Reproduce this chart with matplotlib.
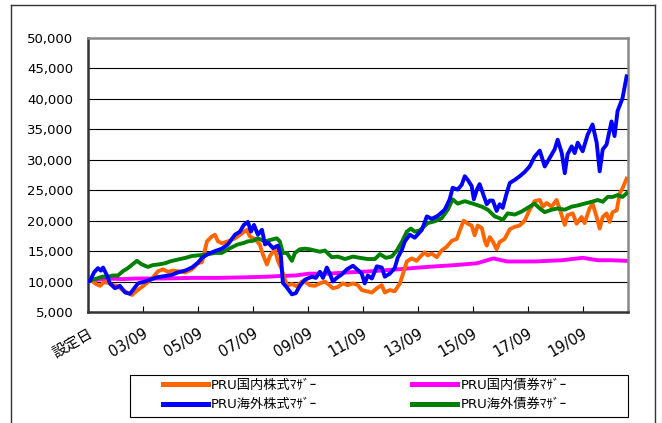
import matplotlib
matplotlib.use("Agg")
import matplotlib.pyplot as plt
from matplotlib.lines import Line2D
from matplotlib.patches import Rectangle
from matplotlib.ticker import FuncFormatter
import numpy as np

plt.rcParams['font.family'] = ['DejaVu Sans', 'Noto Sans CJK JP']

# data (decimal year, index value)
kokunai_kabu_t = [2001.75, 2001.90, 2002.04, 2002.19, 2002.33, 2002.48, 2002.62, 2002.80, 2002.99, 2003.17,
                  2003.35, 2003.53, 2003.71, 2003.90, 2004.08, 2004.30, 2004.48, 2004.66, 2004.84, 2005.02,
                  2005.28, 2005.53, 2005.75, 2005.90, 2006.08, 2006.26, 2006.37, 2006.48, 2006.62, 2006.84,
                  2007.10, 2007.35, 2007.53, 2007.64, 2007.82, 2008.00, 2008.11, 2008.26, 2008.37, 2008.55,
                  2008.66, 2008.80, 2008.99, 2009.17, 2009.35, 2009.53, 2009.64, 2009.82, 2010.00, 2010.19,
                  2010.37, 2010.51, 2010.66, 2010.84, 2011.02, 2011.20, 2011.39, 2011.57, 2011.71, 2011.90,
                  2012.08, 2012.26, 2012.44, 2012.55, 2012.73, 2012.91, 2013.10, 2013.20, 2013.35, 2013.53,
                  2013.71, 2013.82, 2014.00, 2014.11, 2014.26, 2014.44, 2014.62, 2014.80, 2014.99, 2015.17,
                  2015.28, 2015.42, 2015.57, 2015.71, 2015.82, 2015.93, 2016.08, 2016.19, 2016.26, 2016.37,
                  2016.48, 2016.62, 2016.73, 2016.91, 2017.10, 2017.28, 2017.46, 2017.64, 2017.82, 2018.00,
                  2018.19, 2018.30, 2018.44, 2018.62, 2018.80, 2018.91, 2019.10, 2019.20, 2019.39, 2019.53,
                  2019.71, 2019.82, 2020.00, 2020.11, 2020.26, 2020.37, 2020.48, 2020.62, 2020.73, 2020.84,
                  2020.99, 2021.10, 2021.20, 2021.35]
kokunai_kabu = [10000, 10100, 9600, 9300, 9900, 9800, 9500, 9300, 8700, 8200,
                7800, 8500, 9100, 9800, 10500, 11700, 12000, 11600, 11800, 11700,
                11500, 12000, 13000, 13200, 16600, 17400, 17700, 16600, 16300, 16600,
                17100, 17900, 18500, 17400, 17000, 16100, 14500, 12800, 14200, 15300,
                13400, 12000, 9300, 9600, 9200, 10000, 10000, 9400, 9300, 9700,
                10000, 9500, 8900, 9100, 9700, 9400, 9700, 9400, 8600, 8400,
                8200, 8900, 9400, 8200, 8600, 8400, 9700, 11100, 13300, 13800,
                13400, 14000, 14800, 14300, 14600, 14000, 15100, 15700, 16700, 17000,
                18400, 20000, 19500, 19200, 17600, 19200, 18800, 16700, 15900, 17300,
                16600, 15300, 16500, 17000, 18600, 19000, 19200, 20000, 21800, 23200,
                23400, 22300, 22900, 22300, 23400, 22000, 19300, 20900, 21200, 19500,
                20600, 19600, 22000, 22800, 20600, 18700, 20600, 21200, 19800, 21400,
                21700, 24500, 25300, 26900]

kokunai_sai_t = [2001.75, 2002.10, 2002.50, 2003.00, 2003.50, 2004.50, 2005.50, 2006.50, 2007.50, 2008.30,
                 2008.70, 2009.30, 2009.80, 2010.50, 2011.20, 2012.10, 2013.00, 2013.80, 2014.40, 2015.10,
                 2015.90, 2016.20, 2016.50, 2017.00, 2018.00, 2019.00, 2019.75, 2020.30, 2020.80, 2021.35]
kokunai_sai = [10000, 10300, 10500, 10400, 10500, 10500, 10600, 10600, 10700, 10800,
               10900, 11000, 11300, 11300, 11500, 11700, 12000, 12300, 12500, 12700,
               13000, 13400, 13800, 13300, 13300, 13500, 13900, 13500, 13500, 13400]

kaigai_kabu_t = [2001.75, 2001.82, 2001.97, 2002.11, 2002.22, 2002.30, 2002.44, 2002.55, 2002.73, 2002.91,
                 2003.10, 2003.28, 2003.57, 2003.82, 2004.00, 2004.26, 2004.55, 2004.80, 2005.02, 2005.28,
                 2005.53, 2005.75, 2005.90, 2006.11, 2006.37, 2006.62, 2006.84, 2007.10, 2007.28, 2007.42,
                 2007.57, 2007.68, 2007.79, 2007.93, 2008.08, 2008.19, 2008.30, 2008.48, 2008.66, 2008.77,
                 2008.84, 2008.99, 2009.17, 2009.31, 2009.46, 2009.64, 2009.90, 2010.04, 2010.19, 2010.30,
                 2010.44, 2010.55, 2010.66, 2010.80, 2010.99, 2011.17, 2011.39, 2011.57, 2011.71, 2011.82,
                 2011.93, 2012.08, 2012.26, 2012.44, 2012.55, 2012.73, 2012.91, 2013.02, 2013.17, 2013.28,
                 2013.46, 2013.64, 2013.90, 2014.08, 2014.26, 2014.48, 2014.73, 2014.91, 2015.02, 2015.20,
                 2015.35, 2015.46, 2015.57, 2015.71, 2015.79, 2015.90, 2016.00, 2016.11, 2016.26, 2016.37,
                 2016.48, 2016.62, 2016.73, 2016.84, 2016.99, 2017.10, 2017.28, 2017.46, 2017.64, 2017.82,
                 2018.00, 2018.19, 2018.37, 2018.55, 2018.73, 2018.84, 2018.99, 2019.10, 2019.20, 2019.35,
                 2019.46, 2019.57, 2019.75, 2019.93, 2020.11, 2020.26, 2020.37, 2020.48, 2020.62, 2020.80,
                 2020.91, 2021.02, 2021.20, 2021.35]
kaigai_kabu = [10000, 10100, 11500, 12200, 11800, 12300, 11000, 9700, 8900, 9300,
               8200, 8000, 9700, 10000, 10300, 10700, 10900, 11100, 11500, 11800,
               12300, 13100, 13900, 14500, 15000, 15400, 16100, 17700, 18200, 19300,
               19800, 18200, 19300, 17700, 18500, 16100, 16400, 15500, 15900, 14200,
               9800, 9000, 7900, 8100, 9300, 10300, 10800, 10600, 11600, 10600,
               12300, 11300, 10000, 10600, 11200, 12000, 12600, 11900, 11300, 9700,
               11000, 10500, 12500, 12300, 10800, 11300, 12200, 13900, 15200, 16600,
               17700, 17200, 18500, 20700, 20300, 20800, 21800, 23500, 25400, 25100,
               25900, 27300, 26700, 25700, 23500, 25100, 26000, 24600, 22700, 23300,
               23300, 21600, 22700, 22100, 24600, 26200, 26700, 27300, 28000, 28900,
               30500, 31500, 28900, 30300, 31700, 33300, 31100, 27800, 30900, 32200,
               31100, 32800, 31400, 34100, 35800, 32800, 28100, 31700, 32500, 36300,
               33900, 38000, 40100, 43700]

kaigai_sai_t = [2001.75, 2001.90, 2002.08, 2002.26, 2002.48, 2002.66, 2002.84, 2003.02, 2003.20, 2003.39,
                2003.53, 2003.68, 2003.82, 2003.93, 2004.11, 2004.30, 2004.55, 2004.73, 2004.91, 2005.10,
                2005.31, 2005.53, 2005.75, 2006.00, 2006.37, 2006.62, 2006.84, 2007.02, 2007.20, 2007.39,
                2007.57, 2007.75, 2007.93, 2008.08, 2008.19, 2008.44, 2008.62, 2008.73, 2008.84, 2008.99,
                2009.17, 2009.28, 2009.46, 2009.64, 2009.82, 2010.00, 2010.19, 2010.37, 2010.62, 2010.84,
                2011.10, 2011.39, 2011.64, 2011.93, 2012.19, 2012.37, 2012.59, 2012.80, 2012.99, 2013.17,
                2013.35, 2013.50, 2013.64, 2013.82, 2014.11, 2014.37, 2014.62, 2014.84, 2015.02, 2015.20,
                2015.46, 2015.75, 2016.08, 2016.30, 2016.55, 2016.73, 2016.84, 2017.02, 2017.28, 2017.53,
                2017.82, 2018.00, 2018.19, 2018.37, 2018.62, 2018.84, 2019.10, 2019.35, 2019.57, 2019.82,
                2020.08, 2020.30, 2020.48, 2020.66, 2020.84, 2021.02, 2021.20, 2021.35]
kaigai_sai = [10000, 10300, 10500, 10800, 10800, 11000, 11000, 11700, 12200, 12900,
              13400, 12900, 12600, 12400, 12700, 12800, 13000, 13300, 13500, 13700,
              13900, 14200, 14300, 14400, 14700, 14700, 15300, 15700, 16100, 16300,
              16600, 16700, 17100, 16800, 16600, 16900, 17100, 16600, 14700, 14700,
              13400, 14700, 15300, 15400, 15300, 15100, 14900, 15100, 14000, 14100,
              13700, 14100, 13900, 13700, 13700, 14500, 13900, 14100, 15100, 16500,
              18200, 18700, 18200, 18400, 19600, 19900, 20400, 21800, 23500, 22800,
              23200, 22800, 22300, 21800, 20700, 20400, 20100, 21200, 21000, 21500,
              22300, 22800, 22000, 21400, 21800, 22000, 21800, 22300, 22500, 22800,
              23100, 23400, 23100, 23900, 23900, 24200, 23900, 24500]

tick_pos = [2001.75, 2003.75, 2005.75, 2007.75, 2009.75, 2011.75, 2013.75, 2015.75, 2017.75, 2019.75]
tick_lab = ['設定日', '03/09', '05/09', '07/09', '09/09', '11/09', '13/09', '15/09', '17/09', '19/09']

names = ['PRU国内株式ﾏｻﾞｰ', 'PRU海外株式ﾏｻﾞｰ', 'PRU国内債券ﾏｻﾞｰ', 'PRU海外債券ﾏｻﾞｰ']

fig = plt.figure(figsize=(6.62, 4.23), dpi=100)
ax = fig.add_axes([88/662, 1-312/423, 540/662, 274/423])

lw = 2.8
l1, = ax.plot(kokunai_kabu_t, kokunai_kabu, color='#ff6600', lw=lw, zorder=3)
l3, = ax.plot(kokunai_sai_t, kokunai_sai, color='#ff00ff', lw=lw, zorder=2)
l4, = ax.plot(kaigai_sai_t, kaigai_sai, color='#008000', lw=lw, zorder=4)
l2, = ax.plot(kaigai_kabu_t, kaigai_kabu, color='#0000ff', lw=lw, zorder=5)

ax.set_xlim(2001.75, 2021.4)
ax.set_ylim(5000, 50000)
ax.set_yticks(np.arange(5000, 50001, 5000))
ax.yaxis.set_major_formatter(FuncFormatter(lambda v, p: '{:,.0f}'.format(v)))
ax.tick_params(axis='y', length=0, pad=10.5, labelsize=9.5)
for v in range(10000, 50000, 5000):
    ax.axhline(v, color='black', lw=0.8, zorder=1)

ax.set_xticks(tick_pos)
ax.set_xticklabels(tick_lab, rotation=30, ha='right', rotation_mode='anchor', fontsize=10.5)
ax.tick_params(axis='x', direction='in', length=4, width=0.8, pad=10)

for s in ['left', 'bottom']:
    ax.spines[s].set_color('#333333')
    ax.spines[s].set_linewidth(1.8)
for s in ['top', 'right']:
    ax.spines[s].set_color('#888888')
    ax.spines[s].set_linewidth(1.8)

# legend box drawn separately so the padding matches
fig.add_artist(Rectangle((130/662, 1-417/423), 498/662, 42/423, transform=fig.transFigure,
                         facecolor='none', edgecolor='black', lw=0.8))
leg = fig.legend([l1, l2, l3, l4], names, ncol=2, loc='center left',
                 bbox_to_anchor=(163/662, 1-395/423), fontsize=9.5,
                 handlelength=3.4, handletextpad=0.25, columnspacing=7.2,
                 borderpad=0, labelspacing=0.5, borderaxespad=0, frameon=False)
for ln in leg.get_lines():
    ln.set_linewidth(3.6)

# outer frame (bottom edge runs off the image)
x0, x1, yt = 11/662, 655/662, 1-5/423
for xs, ys in [([x0, x1], [yt, yt]), ([x0, x0], [yt, -0.1]), ([x1, x1], [yt, -0.1])]:
    fig.add_artist(Line2D(xs, ys, color='#333333', lw=1.0, transform=fig.transFigure))

fig.savefig('out.png', dpi=100)
